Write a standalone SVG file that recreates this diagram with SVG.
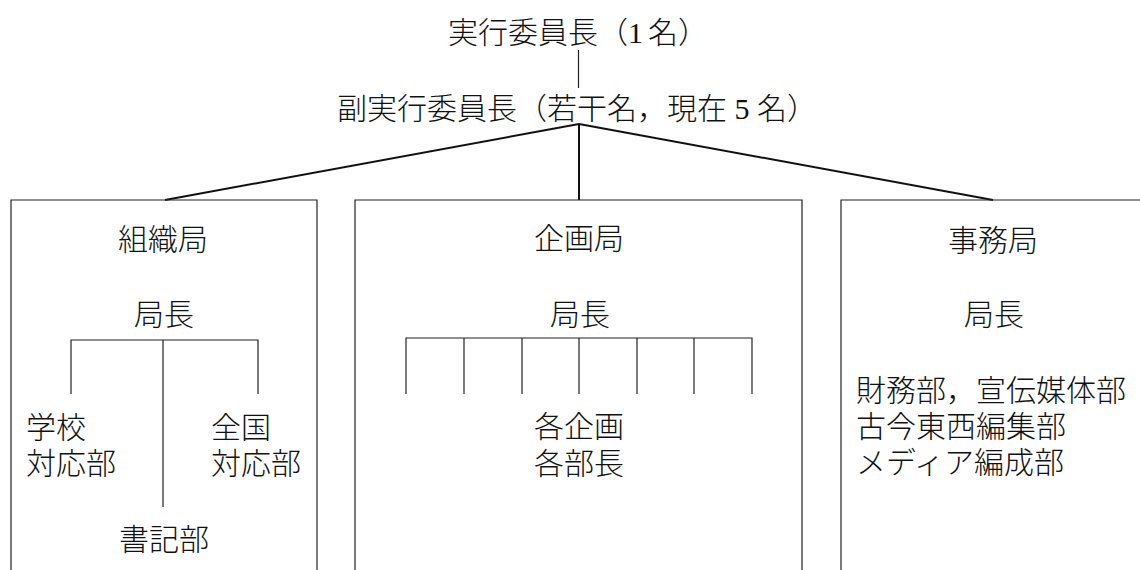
<svg xmlns="http://www.w3.org/2000/svg" width="1140" height="570" viewBox="0 0 1140 570">
<style>
text{font-family:'Liberation Serif','Noto Sans CJK JP',serif;font-size:30px;font-weight:300;fill:#111;}
.c{text-anchor:middle;}
.box{fill:none;stroke:#222;stroke-width:1.2;}
.ln{stroke:#222;stroke-width:1.2;fill:none;}
.dg{stroke:#111;stroke-width:2;fill:none;}
</style>
<rect width="1140" height="570" fill="#fff"/>
<g id="connectors">
<line class="ln" x1="578.5" y1="50" x2="578.5" y2="88"/>
<line class="dg" x1="579" y1="124" x2="165" y2="200"/>
<line class="dg" x1="579" y1="124" x2="579" y2="200"/>
<line class="dg" x1="579" y1="124" x2="993" y2="200"/>
</g>
<g id="chair"><text class="c" x="578" y="43">実行委員長（1<tspan dx="5">名</tspan>）</text></g>
<g id="vice"><text class="c" x="577" y="119">副実行委員長（若干名，現在 5 名）</text></g>
<g id="soshiki">
<path class="box" d="M11,571 V200 H317 V571"/>
<text class="c" x="163" y="250">組織局</text>
<text class="c" x="164" y="325">局長</text>
<path class="ln" d="M71,394 V340 H258 V394 M163,340 V507"/>
<text x="26" y="438">学校</text>
<text x="26" y="474">対応部</text>
<text x="211" y="438">全国</text>
<text x="211" y="474">対応部</text>
<text class="c" x="164" y="550">書記部</text>
</g>
<g id="kikaku">
<path class="box" d="M355,571 V200 H802 V571"/>
<text class="c" x="579" y="249">企画局</text>
<text class="c" x="580" y="325">局長</text>
<path class="ln" d="M406,394 V338 H752 V394 M464,338 V394 M522,338 V394 M579,338 V394 M637,338 V394 M694,338 V394"/>
<text class="c" x="579" y="437">各企画</text>
<text class="c" x="579" y="474">各部長</text>
</g>
<g id="jimu">
<path class="box" d="M841,571 V200 H1141"/>
<text class="c" x="993" y="251">事務局</text>
<text class="c" x="994" y="325">局長</text>
<text x="856" y="401">財務部，宣伝媒体部</text>
<text x="856" y="437">古今東西編集部</text>
<text x="856" y="473">メディア編成部</text>
</g>
</svg>
